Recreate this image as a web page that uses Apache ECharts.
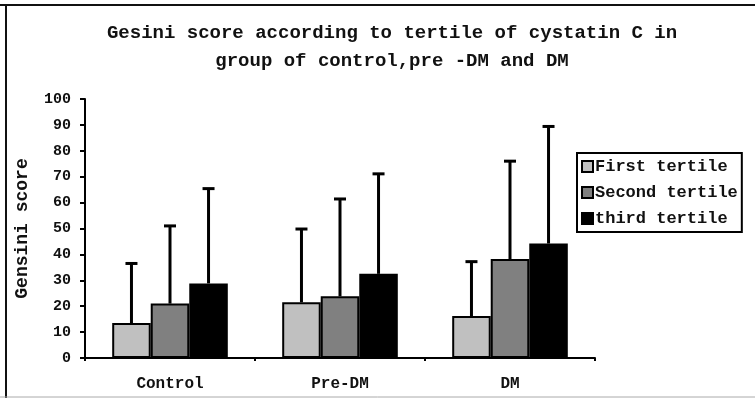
<!DOCTYPE html>
<html>
<head>
<meta charset="utf-8">
<script src="https://cdn.jsdelivr.net/npm/echarts@6/dist/echarts.min.js"></script>
<style>
  html, body { margin: 0; padding: 0; background: #fff; }
  #chart { width: 755px; height: 398px; }
</style>
</head>
<body>
<div id="chart"></div>
<script>
// Gensini score by cystatin C tertile, mean with +SD error bars
const groups = ['Control', 'Pre-DM', 'DM'];
const tertileNames = ['First tertile', 'Second tertile', 'third tertile'];
const firstMean = [13.5, 21.5, 16.2];
const secondMean = [21.0, 23.8, 38.2];
const thirdMean = [28.8, 32.5, 44.2];
const firstSD = [23.0, 28.3, 21.0];
const secondSD = [30.0, 37.6, 37.8];
const thirdSD = [36.6, 38.6, 45.2];
const yTicks = [0, 10, 20, 30, 40, 50, 60, 70, 80, 90, 100];

const means = [firstMean, secondMean, thirdMean];
const sds = [firstSD, secondSD, thirdSD];
const fills = ['#c0c0c0', '#808080', '#000000'];
const FONT = 'Liberation Mono';
const BAR_CATEGORY_GAP = 0.32;

const chart = echarts.init(document.getElementById('chart'), null, { renderer: 'canvas' });

const barSeries = tertileNames.map((name, i) => ({
  name: name,
  type: 'bar',
  data: means[i],
  barGap: '0%',
  barCategoryGap: (BAR_CATEGORY_GAP * 100) + '%',
  itemStyle: { color: fills[i], borderColor: '#000', borderWidth: 2 },
  z: 3
}));

// error bars: a vertical whisker from the bar top up to mean + SD, with a cap
const errorData = [];
for (let s = 0; s < 3; s++) {
  for (let c = 0; c < groups.length; c++) {
    errorData.push([c, means[s][c], means[s][c] + sds[s][c], s]);
  }
}
const errorSeries = {
  type: 'custom',
  name: 'sd',
  data: errorData,
  z: 2,
  silent: true,
  encode: { x: 0, y: [1, 2] },
  renderItem: function (params, api) {
    const c = api.value(0);
    const s = api.value(3);
    const bandW = api.size([1, 0])[0];
    const barW = bandW * (1 - BAR_CATEGORY_GAP) / 3;
    const base = api.coord([c, api.value(1)]);
    const top = api.coord([c, api.value(2)]);
    const x = base[0] + (s - 1) * barW;
    const capHalf = 6;
    const style = { stroke: '#000', lineWidth: 3, fill: null };
    return {
      type: 'group',
      children: [
        { type: 'line', shape: { x1: x, y1: base[1], x2: x, y2: top[1] }, style: style },
        { type: 'line', shape: { x1: x - capHalf, y1: top[1], x2: x + capHalf, y2: top[1] }, style: style }
      ]
    };
  }
};

chart.setOption({
  animation: false,
  backgroundColor: '#fff',
  title: {
    text: 'Gesini score according to tertile of cystatin C in\ngroup of control,pre -DM and DM',
    left: 387,
    top: 14,
    textAlign: 'center',
    textStyle: { fontFamily: FONT, fontSize: 19, fontWeight: 'bold', color: '#111', lineHeight: 28 }
  },
  legend: {
    data: tertileNames,
    orient: 'vertical',
    left: 577,
    top: 153,
    width: 167,
    padding: [5, 4, 5, 4],
    itemGap: 9,
    itemWidth: 11,
    itemHeight: 11,
    borderColor: '#000',
    borderWidth: 2,
    icon: 'rect',
    itemStyle: { borderColor: '#000', borderWidth: 2 },
    textStyle: { fontFamily: FONT, fontSize: 17, fontWeight: 'bold', color: '#111', padding: [0, 0, 0, -3], lineHeight: 17 }
  },
  grid: { left: 85, right: 160, top: 99, bottom: 40, containLabel: false },
  xAxis: {
    type: 'category',
    data: groups,
    axisLine: { lineStyle: { color: '#000', width: 2 } },
    axisTick: { show: true, length: 3, lineStyle: { color: '#000', width: 2 } },
    axisLabel: { fontFamily: FONT, fontSize: 16, fontWeight: 'bold', color: '#111', margin: 18 }
  },
  yAxis: {
    type: 'value',
    min: yTicks[0],
    max: yTicks[yTicks.length - 1],
    interval: yTicks[1] - yTicks[0],
    name: 'Gensini score',
    nameLocation: 'middle',
    nameRotate: 90,
    nameGap: 54,
    nameTextStyle: { fontFamily: FONT, fontSize: 18, fontWeight: 'bold', color: '#111' },
    splitLine: { show: false },
    axisLine: { show: true, lineStyle: { color: '#000', width: 2 } },
    axisTick: { show: true, length: 5, lineStyle: { color: '#000', width: 2 } },
    axisLabel: { fontFamily: FONT, fontSize: 15, fontWeight: 'bold', color: '#111', margin: 14 }
  },
  graphic: [
    { type: 'line', shape: { x1: 0, y1: 5, x2: 755, y2: 5 }, style: { stroke: '#111', lineWidth: 2 } },
    { type: 'line', shape: { x1: 6, y1: 4, x2: 6, y2: 398 }, style: { stroke: '#111', lineWidth: 2 } },
    { type: 'line', shape: { x1: 0, y1: 397, x2: 755, y2: 397 }, style: { stroke: '#aaa', lineWidth: 1 } }
  ],
  series: barSeries.concat([errorSeries])
});
</script>
</body>
</html>
